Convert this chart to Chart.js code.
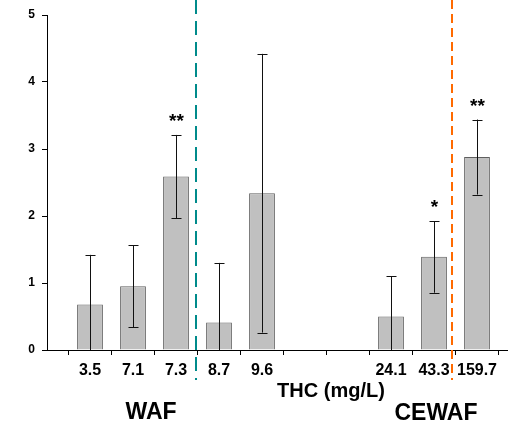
<!DOCTYPE html>
<html>
<head>
<meta charset="utf-8">
<script src="https://cdn.jsdelivr.net/npm/chart.js@4.4.1/dist/chart.umd.min.js"></script>
<style>
html,body{margin:0;padding:0;background:#fff;}
#wrap{width:508px;height:422px;overflow:hidden;position:relative;}
canvas{display:block;}
</style>
</head>
<body>
<div id="wrap"><canvas id="c" width="545" height="422"></canvas></div>
<script>
// ---- data ----
const categories = ['', '3.5', '7.1', '7.3', '8.7', '9.6', '', '', '24.1', '43.3', '159.7', ''];
const means      = [null, 0.68, 0.95, 2.59, 0.41, 2.34, null, null, 0.50, 1.39, 2.88, null];
const errors     = [null, 0.74, 0.61, 0.62, 0.89, 2.08, null, null, 0.60, 0.535, 0.56, null];
const stars      = ['', '', '', '**', '', '', '', '', '', '*', '**', ''];
const yTicks     = [0, 1, 2, 3, 4, 5];
const dividers   = [3.47, 9.42];          // category positions of the dashed separators
const groupLabels = ['WAF', 'CEWAF'];
const axisTitle  = 'THC (mg/L)';

const FONT = '"Liberation Sans", Arial, Helvetica, sans-serif';

const errorBarPlugin = {
  id: 'errbars',
  afterDatasetsDraw(chart) {
    const ctx = chart.ctx, y = chart.scales.y;
    const meta = chart.getDatasetMeta(0);
    ctx.save();
    ctx.strokeStyle = '#111';
    ctx.lineWidth = 1;
    means.forEach((v, i) => {
      if (v == null) return;
      const x = Math.round(meta.data[i].x) + 0.5;
      const top = y.getPixelForValue(v + errors[i]);
      const lowV = Math.max(v - errors[i], 0);
      const bot = y.getPixelForValue(lowV);
      ctx.beginPath();
      ctx.moveTo(x, top); ctx.lineTo(x, bot);
      ctx.moveTo(x - 5, Math.round(top) + 0.5); ctx.lineTo(x + 5, Math.round(top) + 0.5);
      if (lowV > 0) { ctx.moveTo(x - 5, Math.round(bot) + 0.5); ctx.lineTo(x + 5, Math.round(bot) + 0.5); }
      ctx.stroke();
      if (stars[i]) {
        ctx.fillStyle = '#000';
        ctx.font = 'bold 19px ' + FONT;
        ctx.textAlign = 'center';
        ctx.textBaseline = 'middle';
        ctx.fillText(stars[i], x, top - 13);
      }
    });
    ctx.restore();
  },
  afterDraw(chart) {
    const ctx = chart.ctx, xs = chart.scales.x;
    ctx.save();
    // dashed separators
    const styles = [{c: '#008B8B', d: [14, 7]}, {c: '#FF6A00', d: [9, 5]}];
    dividers.forEach((p, k) => {
      const x = Math.round(xs.getPixelForValue(p));
      ctx.strokeStyle = styles[k].c;
      ctx.lineWidth = 2;
      ctx.setLineDash(styles[k].d);
      ctx.beginPath();
      ctx.moveTo(x, 0); ctx.lineTo(x, 380);
      ctx.stroke();
    });
    ctx.setLineDash([]);
    ctx.fillStyle = '#000';
    ctx.textAlign = 'center';
    ctx.textBaseline = 'alphabetic';
    ctx.font = 'bold 20px ' + FONT;
    ctx.fillText(axisTitle, 331, 397);
    ctx.font = 'bold 23px ' + FONT;
    ctx.fillText(groupLabels[0], 151, 419);
    ctx.fillText(groupLabels[1], 436, 420);
    ctx.restore();
  }
};

new Chart(document.getElementById('c'), {
  type: 'bar',
  data: {
    labels: categories,
    datasets: [{
      data: means,
      backgroundColor: '#C0C0C0',
      borderColor: '#5f5f5f',
      borderWidth: 1,
      barPercentage: 0.6,
      categoryPercentage: 1.0,
      clip: false
    }]
  },
  options: {
    responsive: false,
    devicePixelRatio: 1,
    animation: false,
    layout: {padding: {top: 15, right: 25, left: 0, bottom: 0}},
    plugins: {legend: {display: false}, tooltip: {enabled: false}},
    scales: {
      x: {
        type: 'category',
        offset: false,
        grid: {drawOnChartArea: false, drawTicks: true, tickLength: 5, color: '#000'},
        border: {display: true, color: '#000', width: 1},
        ticks: {autoSkip: false, maxRotation: 0, minRotation: 0, padding: 6, color: '#000',
                font: {family: FONT, size: 16, weight: 'bold'}},
        afterFit(s) { s.height = 72; }
      },
      y: {
        min: 0, max: 5,
        afterBuildTicks(s) { s.ticks = yTicks.map(v => ({value: v})); },
        grid: {drawOnChartArea: false, drawTicks: true, tickLength: 5, color: '#000'},
        border: {display: true, color: '#000', width: 1},
        ticks: {padding: 7, color: '#000', font: {family: FONT, size: 12, weight: 'bold'}},
        afterFit(s) { s.width = 47; }
      }
    }
  },
  plugins: [errorBarPlugin]
});
</script>
</body>
</html>
